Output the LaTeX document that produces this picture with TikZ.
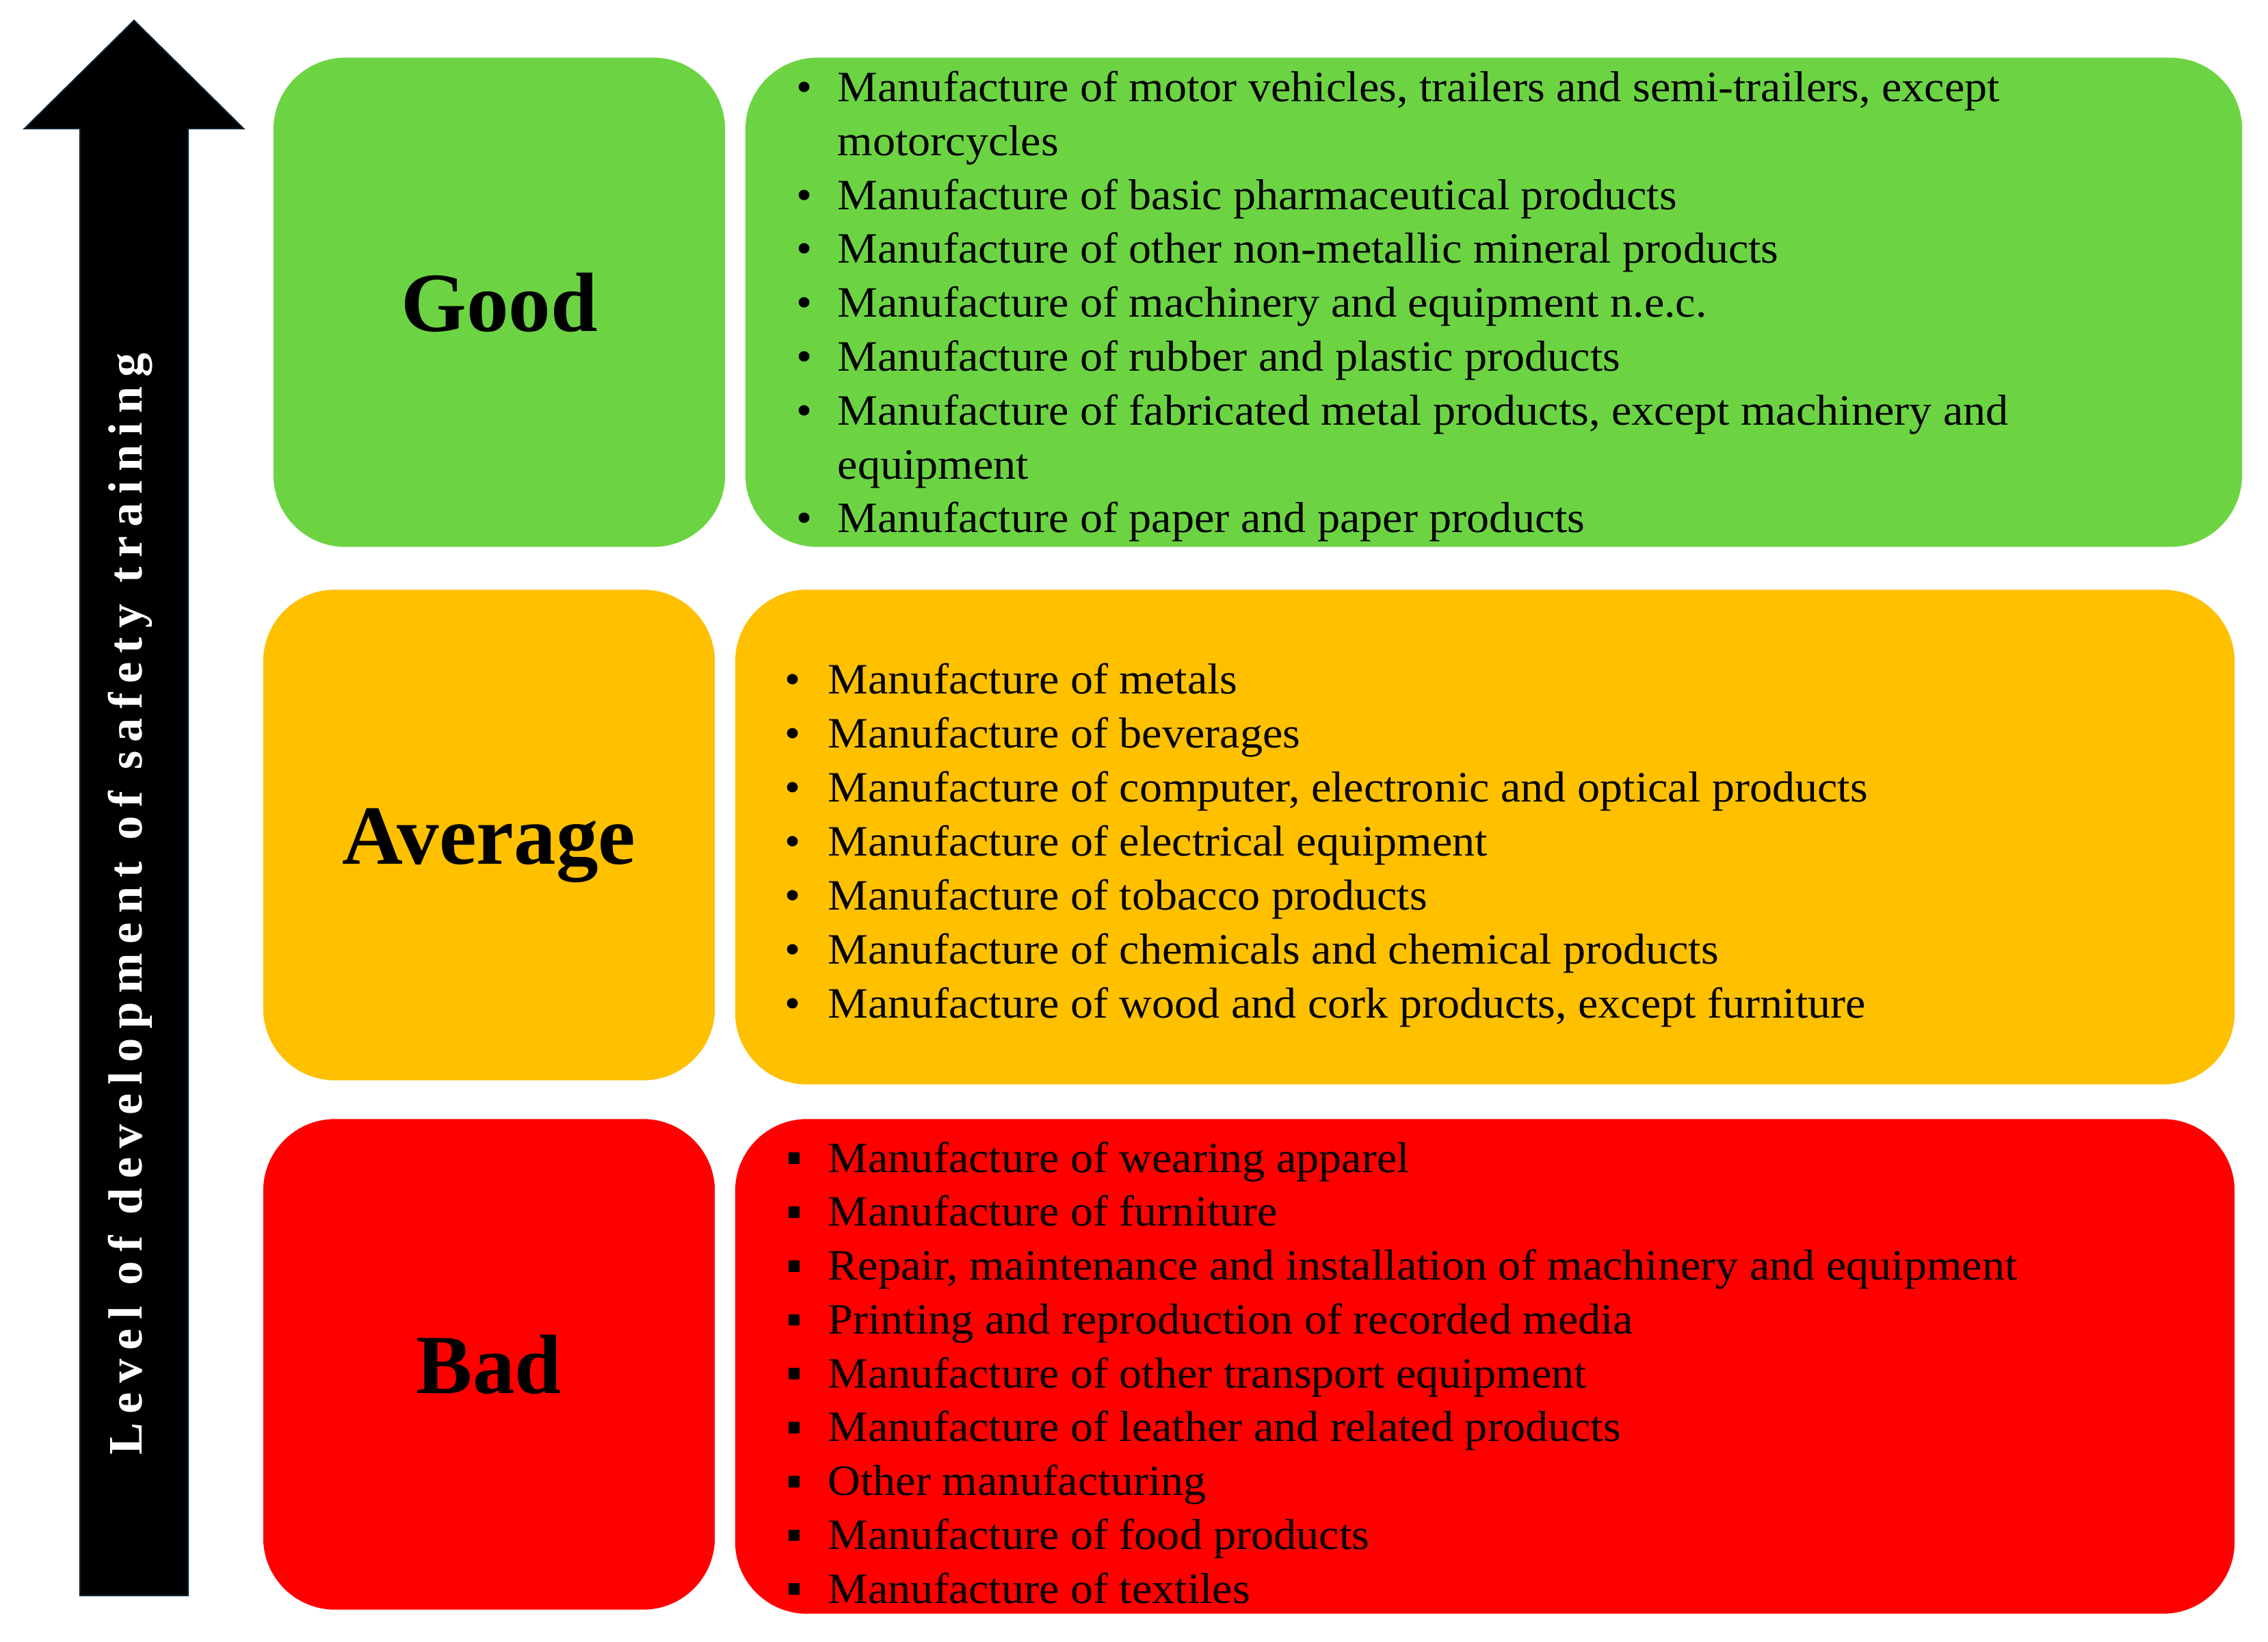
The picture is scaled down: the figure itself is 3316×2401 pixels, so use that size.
\documentclass[tikz,border=0pt]{standalone}
\usepackage{fontspec}
\setmainfont{Liberation Serif}
\definecolor{goodg}{HTML}{6CD443}
\definecolor{avgy}{HTML}{FFC000}
\definecolor{badr}{HTML}{FF0000}
\definecolor{arrowedge}{HTML}{0B2233}
\newfontfamily\itemfont[FakeStretch=1.045]{Liberation Serif}
\begin{document}
\begin{tikzpicture}[x=0.01cm,y=-0.01cm,
  panel/.style={rounded corners=1.05cm, inner sep=0pt, minimum height=7.17cm},
  lvl/.style={font=\fontsize{35}{40}\selectfont\bfseries},
  itm/.style={anchor=base west, inner sep=0pt, font=\itemfont\fontsize{18}{21}\selectfont},
  bul/.style={anchor=base, inner sep=0pt, font=\itemfont\fontsize{18}{21}\selectfont},
  sq/.style={anchor=base, inner sep=0pt, font=\itemfont\fontsize{17}{20}\selectfont},
]
\useasboundingbox (0,0) rectangle (3316,2401);
\fill[white] (0,0) rectangle (3316,2401);
% arrow
\draw[fill=black, draw=arrowedge, line width=0.6pt] (196,30) -- (356,188) -- (275,188) -- (275,2333) -- (117,2333) -- (117,188) -- (36,188) -- cycle;
\node[rotate=90, text=white, inner sep=0pt, font=\fontsize{20}{22}\selectfont\bfseries\addfontfeature{LetterSpace=19}] (axis) at (190,1322) {Level of development of safety training};
% panels
\node[panel, fill=goodg, minimum width=6.6cm, minimum height=7.15cm] (goodL) at (730,442) {};
\node[panel, fill=goodg, minimum width=21.87cm, minimum height=7.15cm] (goodR) at (2184,442) {};
\node[panel, fill=avgy, minimum width=6.6cm] (avgL) at (715,1221) {};
\node[panel, fill=avgy, minimum width=21.91cm, minimum height=7.23cm] (avgR) at (2171,1224) {};
\node[panel, fill=badr, minimum width=6.6cm] (badL) at (715,1995) {};
\node[panel, fill=badr, minimum width=21.91cm, minimum height=7.23cm] (badR) at (2171,1998) {};
% level labels
\node[lvl] (goodT) at (goodL.center) {Good};
\node[lvl, yshift=-0.15cm] (avgT) at (avgL.center) {Average};
\node[lvl] (badT) at (badL.center) {Bad};
% good items
\node[bul] (gb1) at (1176,149) {•};
\node[itm] (g1) at (1224,149) {Manufacture of motor vehicles, trailers and semi-trailers, except};
\node[itm] (g1b) at (1224,228) {motorcycles};
\node[bul] (gb2) at (1176,307) {•};
\node[itm] (g2) at (1224,307) {Manufacture of basic pharmaceutical products};
\node[bul] (gb3) at (1176,385) {•};
\node[itm] (g3) at (1224,385) {Manufacture of other non-metallic mineral products};
\node[bul] (gb4) at (1176,464) {•};
\node[itm] (g4) at (1224,464) {Manufacture of machinery and equipment n.e.c.};
\node[bul] (gb5) at (1176,543) {•};
\node[itm] (g5) at (1224,543) {Manufacture of rubber and plastic products};
\node[bul] (gb6) at (1176,622) {•};
\node[itm] (g6) at (1224,622) {Manufacture of fabricated metal products, except machinery and};
\node[itm] (g6b) at (1224,701) {equipment};
\node[bul] (gb7) at (1176,779) {•};
\node[itm] (g7) at (1224,779) {Manufacture of paper and paper products};
% average items
\node[bul] (ab1) at (1159,1014) {•};
\node[itm] (a1) at (1210,1014) {Manufacture of metals};
\node[bul] (ab2) at (1159,1093) {•};
\node[itm] (a2) at (1210,1093) {Manufacture of beverages};
\node[bul] (ab3) at (1159,1172) {•};
\node[itm] (a3) at (1210,1172) {Manufacture of computer, electronic and optical products};
\node[bul] (ab4) at (1159,1251) {•};
\node[itm] (a4) at (1210,1251) {Manufacture of electrical equipment};
\node[bul] (ab5) at (1159,1330) {•};
\node[itm] (a5) at (1210,1330) {Manufacture of tobacco products};
\node[bul] (ab6) at (1159,1409) {•};
\node[itm] (a6) at (1210,1409) {Manufacture of chemicals and chemical products};
\node[bul] (ab7) at (1159,1488) {•};
\node[itm] (a7) at (1210,1488) {Manufacture of wood and cork products, except furniture};
% bad items
\foreach \t [count=\i from 0] in {
  {Manufacture of wearing apparel},
  {Manufacture of furniture},
  {Repair, maintenance and installation of machinery and equipment},
  {Printing and reproduction of recorded media},
  {Manufacture of other transport equipment},
  {Manufacture of leather and related products},
  {Other manufacturing},
  {Manufacture of food products},
  {Manufacture of textiles}} {
  \node[sq] (bb\i) at (1161,1714+78.75*\i) {\rule[0.2em]{0.28em}{0.28em}};
  \node[itm] (b\i) at (1210,1714+78.75*\i) {\t};
}
\end{tikzpicture}
\end{document}
